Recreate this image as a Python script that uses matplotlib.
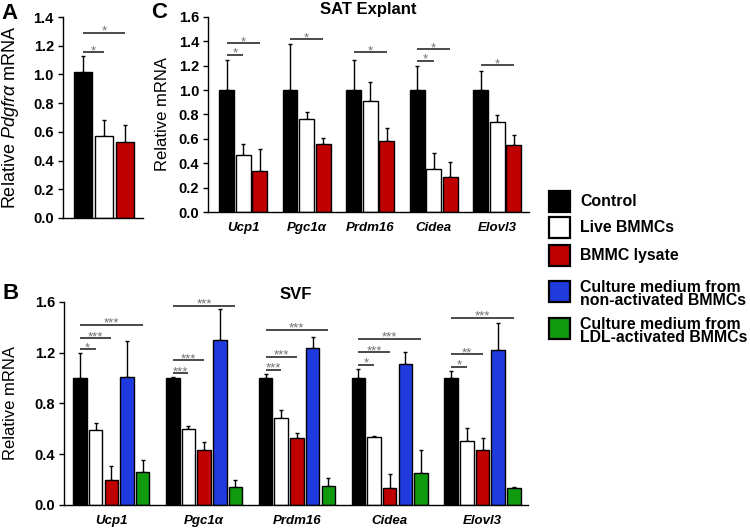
import matplotlib
matplotlib.use("Agg")
import matplotlib.pyplot as plt
from matplotlib.patches import Rectangle

plt.rcParams['font.family'] = ['Liberation Sans', 'DejaVu Sans']
plt.rcParams['mathtext.fontset'] = 'custom'
plt.rcParams['mathtext.rm'] = 'Liberation Sans'
plt.rcParams['mathtext.it'] = 'Liberation Sans:italic'

# ---- data ----
genes = ['Ucp1', 'Pgc1α', 'Prdm16', 'Cidea', 'Elovl3']
legend_labels = ['Control', 'Live BMMCs', 'BMMC lysate',
                 'Culture medium from\nnon-activated BMMCs',
                 'Culture medium from\nLDL-activated BMMCs']
colors = ['#000000', '#ffffff', '#c00000', '#1f3be0', '#109a10']

# panel A: Pdgfra
a_mean = [1.02, 0.57, 0.53]
a_err = [0.11, 0.11, 0.12]
a_sig = [(1, 1.156, '*'), (2, 1.29, '*')]

# panel C: SAT explant (control, live, lysate)
c_control = [1.0, 1.0, 1.0, 1.0, 1.0]
c_control_err = [0.25, 0.38, 0.25, 0.20, 0.16]
c_live = [0.467, 0.76, 0.914, 0.35, 0.737]
c_live_err = [0.088, 0.063, 0.156, 0.13, 0.06]
c_lysate = [0.338, 0.554, 0.585, 0.288, 0.55]
c_lysate_err = [0.178, 0.05, 0.107, 0.12, 0.08]
c_sig = [(0, 1, 1.29, '*'), (0, 2, 1.386, '*'), (1, 2, 1.42, '*'),
         (2, 2, 1.31, '*'), (3, 1, 1.24, '*'), (3, 2, 1.337, '*'),
         (4, 2, 1.205, '*')]

# panel B: SVF (control, live, lysate, non-activated medium, LDL-activated medium)
b_control = [1.0, 1.0, 1.0, 1.0, 1.0]
b_control_err = [0.197, 0.005, 0.03, 0.07, 0.058]
b_live = [0.593, 0.598, 0.685, 0.535, 0.504]
b_live_err = [0.05, 0.024, 0.065, 0.011, 0.10]
b_lysate = [0.197, 0.436, 0.53, 0.131, 0.433]
b_lysate_err = [0.107, 0.057, 0.034, 0.113, 0.097]
b_nonact = [1.01, 1.30, 1.239, 1.115, 1.223]
b_nonact_err = [0.284, 0.243, 0.086, 0.09, 0.213]
b_ldl = [0.257, 0.142, 0.147, 0.255, 0.136]
b_ldl_err = [0.10, 0.052, 0.063, 0.178, 0.006]
b_sig_white = [1.228, 1.04, 1.066, 1.105, 1.09]
b_stars_white = ['*', '***', '***', '*', '*']
b_sig_red = [1.315, 1.14, 1.17, 1.205, 1.19]
b_stars_red = ['***', '***', '***', '***', '**']
b_sig_green = [1.42, 1.57, 1.383, 1.312, 1.475]
b_stars_green = ['***', '***', '***', '***', '***']


def style_axis(ax, ymax, step):
    for s in ['top', 'right']:
        ax.spines[s].set_visible(False)
    for s in ['left', 'bottom']:
        ax.spines[s].set_linewidth(1.0)
    ax.set_ylim(0, ymax)
    ax.set_yticks([round(i * step, 2) for i in range(int(round(ymax / step)) + 1)])
    ax.tick_params(axis='y', direction='out', length=3.5, width=1.0, pad=3,
                   labelsize=10.5)
    for t in ax.get_yticklabels():
        t.set_fontweight('bold')
    ax.tick_params(axis='x', length=0, pad=7)


def draw_bars(ax, xs, means, errs, color, width):
    ax.bar(xs, means, width=width, color=color, edgecolor='black',
           linewidth=1.0, zorder=2)
    ax.errorbar(xs, means, yerr=[[0] * len(errs), errs], fmt='none',
                ecolor='black', elinewidth=1.0, capsize=1.4, capthick=1.0,
                zorder=1)


def sig_line(ax, x0, x1, y, stars):
    ax.plot([x0, x1], [y, y], color='#2a2a2a', lw=1.2, solid_capstyle='butt')
    ax.annotate(stars, xy=((x0 + x1) / 2, y), xytext=(0, -1.5),
                textcoords='offset points', ha='center', va='baseline',
                fontsize=9.5, color='#707070')


fig = plt.figure(figsize=(7.5, 5.3), dpi=100)

# ---- panel A ----
axA = fig.add_axes([0.084, 0.5887, 0.1067, 0.3792])
xa = [0, 1, 2]
for j in range(3):
    draw_bars(axA, [xa[j]], [a_mean[j]], [a_err[j]], colors[j], 0.86)
for target, h, st in a_sig:
    sig_line(axA, 0, xa[target], h, st)
axA.set_xlim(-0.95, 2.86)
axA.set_xticks([])
style_axis(axA, 1.4, 0.2)
axA.set_ylabel(r'Relative $\mathit{Pdgfr\alpha}$ mRNA', fontsize=13)
axA.yaxis.set_label_coords(-0.53, 0.5)

# ---- panel C ----
axC = fig.add_axes([0.2777, 0.6, 0.4276, 0.368])
c_series = [(c_control, c_control_err), (c_live, c_live_err),
            (c_lysate, c_lysate_err)]
cw, cp = 0.236, 0.263
for j, (m, e) in enumerate(c_series):
    xs = [i + (j - 1) * cp for i in range(len(genes))]
    draw_bars(axC, xs, m, e, colors[j], cw)
for g, target, h, st in c_sig:
    sig_line(axC, g - cp, g + (target - 1) * cp, h, st)
axC.set_xlim(-0.55, 4.5)
axC.set_xticks(range(len(genes)))
axC.set_xticklabels(genes, fontsize=9.5, fontweight='bold', fontstyle='italic')
style_axis(axC, 1.6, 0.2)
axC.set_ylabel('Relative mRNA', fontsize=12)
axC.yaxis.set_label_coords(-0.119, 0.5)
axC.set_title('SAT Explant', fontsize=12, fontweight='bold', pad=0.5)

# ---- panel B ----
axB = fig.add_axes([0.0853, 0.0472, 0.6187, 0.383])
b_series = [(b_control, b_control_err), (b_live, b_live_err),
            (b_lysate, b_lysate_err), (b_nonact, b_nonact_err),
            (b_ldl, b_ldl_err)]
bw, bp = 0.146, 0.169
for j, (m, e) in enumerate(b_series):
    xs = [i + (j - 2) * bp for i in range(len(genes))]
    draw_bars(axB, xs, m, e, colors[j], bw)
for i in range(len(genes)):
    x0 = i - 2 * bp
    sig_line(axB, x0, i - bp, b_sig_white[i], b_stars_white[i])
    sig_line(axB, x0, i, b_sig_red[i], b_stars_red[i])
    sig_line(axB, x0, i + 2 * bp, b_sig_green[i], b_stars_green[i])
axB.set_xlim(-0.51, 4.49)
axB.set_xticks(range(len(genes)))
axB.set_xticklabels(genes, fontsize=9.5, fontweight='bold', fontstyle='italic')
style_axis(axB, 1.6, 0.4)
axB.set_ylabel('Relative mRNA', fontsize=12)
axB.yaxis.set_label_coords(-0.100, 0.5)
axB.set_title('SVF', fontsize=12, fontweight='bold', pad=1)

# panel letters
fig.text(0.002, 0.975, 'A', fontsize=16, fontweight='bold', va='center')
fig.text(0.202, 0.977, 'C', fontsize=16, fontweight='bold', va='center')
fig.text(0.004, 0.447, 'B', fontsize=16, fontweight='bold', va='center')

# ---- legend ----
W, H = 750.0, 530.0
sq_top = [191, 217, 245, 281, 318]
for k, lab in enumerate(legend_labels):
    fig.add_artist(Rectangle((549 / W, 1 - (sq_top[k] + 21) / H), 21 / W, 21 / H,
                             transform=fig.transFigure, facecolor=colors[k],
                             edgecolor='black', linewidth=1.6))
    if '\n' in lab:
        fig.text(580 / W, 1 - (sq_top[k] - 1) / H, lab, fontsize=11.4,
                 fontweight='bold', va='top', linespacing=0.85)
    else:
        fig.text(580 / W, 1 - (sq_top[k] + 10.5) / H, lab, fontsize=11.4,
                 fontweight='bold', va='center')

fig.savefig('out.png', dpi=100)
